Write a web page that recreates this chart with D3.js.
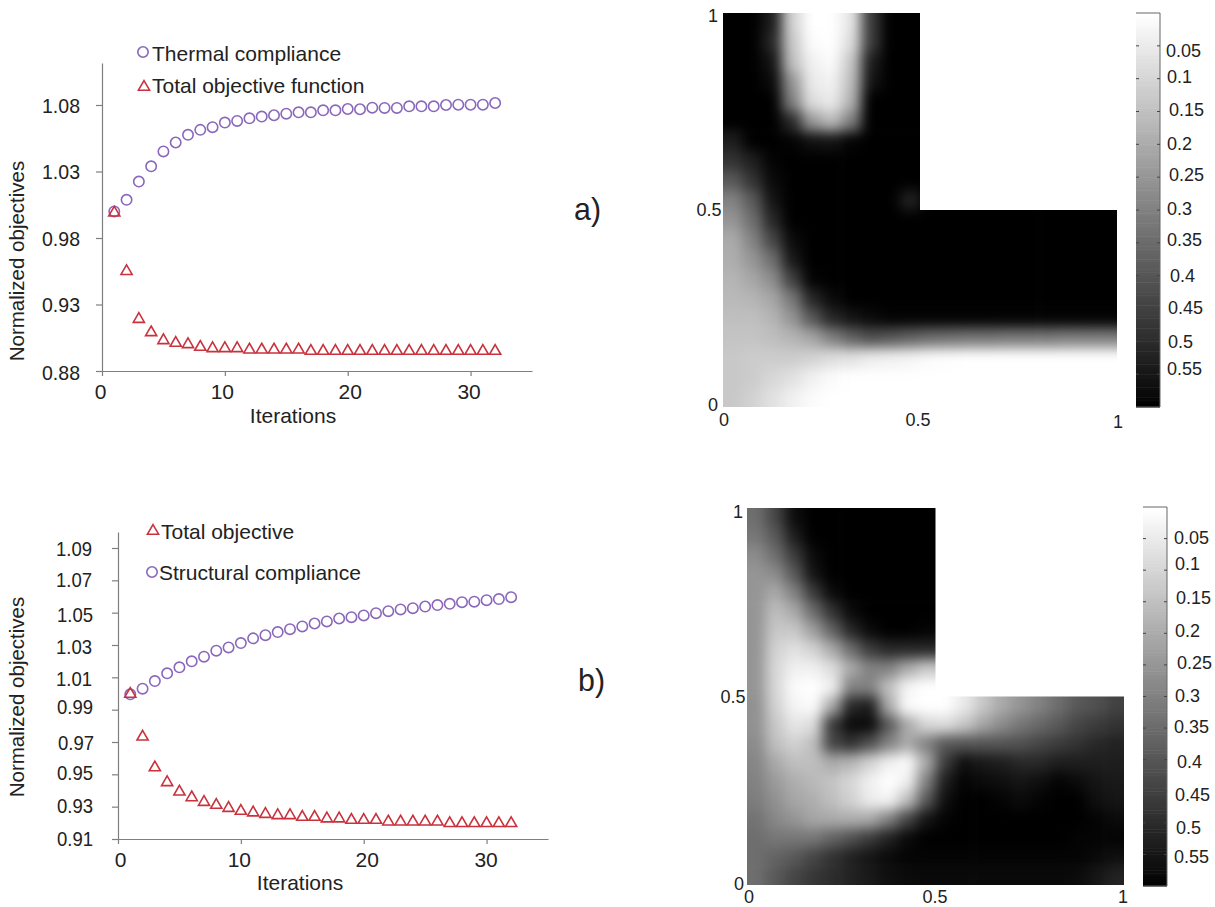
<!DOCTYPE html>
<html>
<head>
<meta charset="utf-8">
<script src="https://cdn.jsdelivr.net/npm/d3@7"></script>
<style>
    html, body { margin: 0; padding: 0; background: #fff; }
    svg { display: block; }
    text { font-family: "Liberation Sans", Arial, sans-serif; fill: #222; }
</style>
</head>
<body>
<div id="chart"></div>
<script>
// values
const iterations = d3.range(1, 33);

const thermalCompliance = [1.000, 1.0087, 1.0224, 1.0339, 1.0451, 1.0518, 1.0576, 1.0613, 1.0633, 1.0668, 1.068,
    1.070, 1.0713, 1.0723, 1.0735, 1.0745, 1.0745, 1.076, 1.076, 1.077, 1.0768, 1.078, 1.0778, 1.0778, 1.079,
    1.079, 1.079, 1.080, 1.0802, 1.0802, 1.0802, 1.0815];
const totalObjectiveA = [0.999, 0.955, 0.919, 0.909, 0.903, 0.901, 0.900, 0.898, 0.897, 0.897, 0.897, 0.896,
    0.896, 0.896, 0.896, 0.896, 0.895, 0.895, 0.895, 0.895, 0.895, 0.895, 0.895, 0.895, 0.895, 0.895, 0.895,
    0.895, 0.895, 0.895, 0.895, 0.895];
const structuralCompliance = [0.9995, 1.003, 1.0077, 1.0125, 1.0162, 1.0199, 1.0228, 1.0265, 1.0285, 1.0312,
    1.0341, 1.0361, 1.038, 1.0398, 1.0415, 1.0433, 1.0446, 1.0464, 1.0472, 1.0483, 1.0497, 1.0509, 1.052, 1.0528,
    1.0538, 1.0547, 1.0555, 1.0565, 1.0568, 1.0577, 1.0584, 1.0596];
const totalObjectiveB = [0.9997, 0.9732, 0.9542, 0.945, 0.9392, 0.9357, 0.9328, 0.931, 0.9291, 0.9273, 0.9263,
    0.9254, 0.9246, 0.9246, 0.9236, 0.9236, 0.9226, 0.9226, 0.9217, 0.9217, 0.9217, 0.9207, 0.9207, 0.9207, 0.9207,
    0.9207, 0.9197, 0.9197, 0.9197, 0.9197, 0.9197, 0.9197];

const xTicks = [0, 10, 20, 30];
const yTicksA = [0.88, 0.93, 0.98, 1.03, 1.08];
const yTicksB = [0.91, 0.93, 0.95, 0.97, 0.99, 1.01, 1.03, 1.05, 1.07, 1.09];
const barTicks = [0.05, 0.1, 0.15, 0.2, 0.25, 0.3, 0.35, 0.4, 0.45, 0.5, 0.55];
const fieldTicks = [0, 0.5, 1];

// field values, top row first, the cut out corner is left out of the first ten rows
const fieldA = [
    [.6, .6, .53, .105, 0, 0, .06, .46, .6, .6],
    [.6, .6, .505, .13, .01, 0, .08, .46, .6, .6],
    [.6, .6, .55, .15, .035, .01, .13, .53, .6, .6],
    [.6, .6, .575, .25, .05, .03, .15, .55, .6, .6],
    [.6, .6, .6, .3, .08, .05, .18, .6, .6, .6],
    [.6, .6, .6, .5, .24, .16, .3, .6, .6, .6],
    [.53, .6, .6, .59, .56, .55, .59, .6, .6, .6],
    [.48, .53, .59, .6, .6, .6, .6, .6, .6, .6],
    [.39, .48, .575, .6, .6, .6, .6, .6, .6, .6],
    [.295, .39, .55, .6, .6, .6, .6, .6, .6, .52],
    [.25, .34, .505, .6, .6, .6, .6, .6, .6, .6, .6, .6, .6, .6, .6, .6, .6, .6, .6, .6],
    [.2, .295, .435, .575, .6, .6, .6, .6, .6, .6, .6, .6, .6, .6, .6, .6, .6, .6, .6, .6],
    [.19, .25, .34, .54, .6, .6, .6, .6, .6, .6, .6, .6, .6, .6, .6, .6, .6, .6, .6, .6],
    [.175, .21, .27, .45, .59, .6, .6, .6, .6, .6, .6, .6, .6, .6, .6, .6, .6, .6, .6, .6],
    [.165, .175, .21, .32, .505, .575, .6, .6, .6, .6, .6, .6, .6, .6, .6, .6, .6, .6, .6, .6],
    [.15, .15, .175, .25, .39, .505, .55, .575, .59, .59, .59, .59, .59, .59, .59, .59, .59, .59, .59, .59],
    [.14, .14, .15, .175, .21, .295, .365, .41, .39, .365, .34, .33, .32, .32, .31, .31, .31, .3, .3, .3],
    [.13, .12, .12, .12, .105, .08, .07, .045, .035, .025, .01, .005, 0, 0, 0, 0, 0, 0, 0, 0],
    [.13, .12, .095, .07, .035, .01, 0, 0, 0, 0, 0, 0, 0, 0, 0, 0, 0, 0, 0, 0],
    [.13, .105, .07, .035, .01, 0, 0, 0, 0, 0, 0, 0, 0, 0, 0, 0, 0, 0, 0, 0]
];
const fieldB = [
    [.34, .435, .57, .6, .6, .6, .6, .6, .6, .6],
    [.32, .39, .53, .6, .6, .6, .6, .6, .6, .6],
    [.27, .34, .46, .575, .6, .6, .6, .6, .6, .6],
    [.25, .27, .39, .55, .6, .6, .6, .6, .6, .6],
    [.25, .2, .295, .46, .575, .6, .6, .6, .6, .6],
    [.25, .15, .2, .34, .48, .575, .6, .6, .6, .6],
    [.25, .13, .13, .225, .365, .505, .575, .6, .6, .59],
    [.25, .105, .07, .105, .2, .34, .46, .505, .505, .505],
    [.25, .095, .035, .035, .08, .2, .295, .295, .2, .13],
    [.25, .095, .01, 0, .035, .295, .295, .15, .025, 0],
    [.26, .105, .025, .01, .2, .505, .53, .2, .01, 0, 0, .05, .13, .2, .25, .295, .34, .39, .41, .445],
    [.26, .13, .06, .08, .46, .575, .575, .39, .2, .095, .08, .13, .21, .27, .32, .355, .39, .435, .46, .48],
    [.27, .15, .105, .15, .435, .48, .41, .295, .2, .295, .39, .4, .4, .4, .41, .435, .46, .48, .505, .52],
    [.285, .2, .15, .15, .2, .175, .105, .035, .01, .2, .46, .565, .54, .53, .505, .505, .53, .53, .53, .53],
    [.295, .235, .19, .165, .14, .095, .035, 0, .035, .295, .53, .59, .575, .565, .55, .565, .59, .575, .55, .54],
    [.305, .26, .21, .19, .15, .105, .045, .025, .15, .39, .565, .6, .6, .59, .575, .59, .6, .6, .565, .55],
    [.33, .28, .25, .21, .2, .19, .2, .295, .435, .55, .59, .6, .6, .6, .6, .6, .6, .6, .59, .575],
    [.34, .32, .32, .32, .365, .41, .46, .52, .575, .6, .6, .6, .6, .6, .6, .6, .6, .59, .59, .59],
    [.34, .365, .39, .435, .48, .52, .55, .575, .59, .59, .59, .59, .59, .59, .59, .59, .59, .59, .58, .565],
    [.34, .39, .435, .47, .495, .52, .54, .565, .575, .58, .58, .58, .58, .58, .58, .58, .58, .575, .55, .52]
];

const width = 1215, height = 907;
const purple = "#8a67bb", red = "#c9323c", axisGrey = "#7f7f7f";

const svg = d3.select("#chart").append("svg")
    .attr("width", width)
    .attr("height", height);

const defs = svg.append("defs");
defs.append("filter")
    .attr("id", "soften")
    .attr("x", "-15%").attr("y", "-15%")
    .attr("width", "130%").attr("height", "130%")
    .attr("color-interpolation-filters", "sRGB")
    .append("feGaussianBlur")
    .attr("stdDeviation", 6.5);

const grey = d3.scaleLinear().domain([0, 0.6]).range(["#ffffff", "#000000"]).clamp(true);

function drawConvergence(cfg) {
    let x = d3.scaleLinear().domain([0, 35]).range([cfg.left, cfg.right]);
    let y = d3.scaleLinear().domain([cfg.yTicks[0], cfg.yTicks[cfg.yTicks.length - 1]]).range(cfg.yRange);
    let yTop = y.invert(cfg.axisTop);
    let yAxisScale = y.copy().domain([cfg.yTicks[0], yTop]).range([cfg.yRange[0], cfg.axisTop]);

    let g = svg.append("g");

    let xAxis = g.append("g")
        .attr("transform", `translate(0,${cfg.yRange[0]})`)
        .call(d3.axisBottom(x).tickValues(xTicks).tickSize(5).tickSizeOuter(0).tickPadding(8));
    let yAxis = g.append("g")
        .attr("transform", `translate(${cfg.left},0)`)
        .call(d3.axisLeft(yAxisScale).tickValues(cfg.yTicks).tickSize(6).tickSizeOuter(0).tickFormat(d3.format(".2f")));

    xAxis.selectAll("path, line").attr("stroke", axisGrey).attr("stroke-width", 1.2);
    yAxis.selectAll("path, line").attr("stroke", axisGrey).attr("stroke-width", 1.2);
    xAxis.selectAll("text").attr("font-size", 21).attr("dx", (d, i) => cfg.xNudge[i]);
    yAxis.selectAll("text").attr("font-size", 21)
        .attr("x", (d, i) => cfg.yLabelX + cfg.yNudge[i][0])
        .attr("dy", (d, i) => 7 + cfg.yNudge[i][1])
        .attr("textLength", cfg.yLabelWidth)
        .attr("lengthAdjust", "spacingAndGlyphs");

    g.append("text")
        .attr("x", cfg.xLabel[0]).attr("y", cfg.xLabel[1])
        .attr("text-anchor", "middle")
        .attr("font-size", 21)
        .text("Iterations");
    g.append("text")
        .attr("transform", `translate(${cfg.yLabel[0]},${cfg.yLabel[1]}) rotate(-90)`)
        .attr("text-anchor", "middle")
        .attr("font-size", 20.5)
        .text("Normalized objectives");

    g.selectAll("circle.mark")
        .data(iterations)
        .join("circle")
        .attr("class", "mark")
        .attr("cx", d => x(d))
        .attr("cy", (d, i) => y(cfg.compliance[i]))
        .attr("r", 5.2)
        .attr("fill", "none")
        .attr("stroke", purple)
        .attr("stroke-width", 1.6);

    let triangle = d3.symbol().type(d3.symbolTriangle).size(54);
    g.selectAll("path.mark")
        .data(iterations)
        .join("path")
        .attr("class", "mark")
        .attr("d", triangle)
        .attr("transform", (d, i) => `translate(${x(d)},${y(cfg.total[i])})`)
        .attr("fill", "none")
        .attr("stroke", red)
        .attr("stroke-width", 1.6);

    cfg.legend.forEach(item => {
        if (item.mark === "circle") {
            g.append("circle")
                .attr("cx", item.x).attr("cy", item.y)
                .attr("r", 5.2)
                .attr("fill", "none").attr("stroke", purple).attr("stroke-width", 1.6);
        } else {
            g.append("path")
                .attr("d", triangle)
                .attr("transform", `translate(${item.x},${item.y})`)
                .attr("fill", "none").attr("stroke", red).attr("stroke-width", 1.6);
        }
        g.append("text")
            .attr("x", item.textX).attr("y", item.textY)
            .attr("font-size", 21)
            .text(item.label);
    });
}

function drawField(cfg) {
    let x = d3.scaleLinear().domain([0, 1]).range([cfg.x0, cfg.x1]);
    let y = d3.scaleLinear().domain([0, 1]).range([cfg.y0, cfg.y1]);
    let n = cfg.field.length;
    let step = 1 / n;

    // the notch cells take the nearest edge value so the blur does not bleed grey in from it
    let cells = [];
    for (let r = 0; r < n; r++) {
        for (let c = 0; c < n; c++) {
            let v = cfg.field[r][c];
            if (v === undefined) {
                v = (n / 2 - r) <= (c - n / 2 + 1) ? cfg.field[n / 2][c] : cfg.field[r][n / 2 - 1];
            }
            cells.push({ r: r, c: c, v: v });
        }
    }

    let outline = [[0, 0], [1, 0], [1, 0.5], [0.5, 0.5], [0.5, 1], [0, 1]];
    let line = d3.line().x(d => x(d[0])).y(d => y(d[1]));

    defs.append("clipPath").attr("id", cfg.id)
        .append("path").attr("d", line(outline) + "Z");

    let g = svg.append("g");
    let clipped = g.append("g").attr("clip-path", `url(#${cfg.id})`);
    let pad = 30; // edge cells run past the frame, the clip trims them
    clipped.append("g")
        .attr("filter", "url(#soften)")
        .selectAll("rect")
        .data(cells)
        .join("rect")
        .attr("x", d => x(d.c * step) - (d.c === 0 ? pad : 0))
        .attr("y", d => y(1 - d.r * step) - (d.r === 0 ? pad : 0))
        .attr("width", d => x(step) - x(0) + 0.6 + (d.c === 0 || d.c === n - 1 ? pad : 0))
        .attr("height", d => y(0) - y(step) + 0.6 + (d.r === 0 || d.r === n - 1 ? pad : 0))
        .attr("fill", d => grey(d.v));

    fieldTicks.forEach((t, i) => {
        g.append("text")
            .attr("x", cfg.xTickPos[i][0]).attr("y", cfg.xTickPos[i][1])
            .attr("text-anchor", "middle").attr("font-size", cfg.fontSize)
            .text(t);
        g.append("text")
            .attr("x", cfg.yTickPos[i][0]).attr("y", cfg.yTickPos[i][1])
            .attr("text-anchor", "middle").attr("font-size", cfg.fontSize)
            .text(t);
    });

    // colour bar
    let barY = d3.scaleLinear().domain([0, 0.6]).range([cfg.barTop, cfg.barBottom]);
    let levels = d3.range(0, 0.6, 0.005);
    let bar = g.append("g");
    bar.selectAll("rect")
        .data(levels)
        .join("rect")
        .attr("x", cfg.barX0)
        .attr("y", d => barY(d))
        .attr("width", cfg.barX1 - cfg.barX0)
        .attr("height", d => barY(d + 0.005) - barY(d) + 0.5)
        .attr("fill", d => grey(d));
    bar.append("path")
        .attr("d", `M${cfg.barX0},${cfg.barTop}H${cfg.barX1}V${cfg.barBottom}H${cfg.barX0}`)
        .attr("fill", "none")
        .attr("stroke", "#666")
        .attr("stroke-width", 1);
    bar.selectAll("line.left")
        .data(barTicks)
        .join("line")
        .attr("class", "left")
        .attr("x1", cfg.barX0).attr("x2", cfg.barX0 + 3)
        .attr("y1", d => barY(d)).attr("y2", d => barY(d))
        .attr("stroke", "#444");
    bar.selectAll("line.right")
        .data(barTicks)
        .join("line")
        .attr("class", "right")
        .attr("x1", cfg.barX1 - 3).attr("x2", cfg.barX1)
        .attr("y1", d => barY(d)).attr("y2", d => barY(d))
        .attr("stroke", "#444");
    bar.selectAll("text")
        .data(barTicks)
        .join("text")
        .attr("x", (d, i) => cfg.barLabelPos[i][0])
        .attr("y", (d, i) => cfg.barLabelPos[i][1])
        .attr("font-size", cfg.fontSize)
        .text(d => d);

    svg.append("text")
        .attr("x", cfg.tag[0]).attr("y", cfg.tag[1])
        .attr("font-size", 32)
        .attr("textLength", 27)
        .attr("lengthAdjust", "spacingAndGlyphs")
        .text(cfg.tag[2]);
}

drawConvergence({
    compliance: thermalCompliance,
    total: totalObjectiveA,
    yTicks: yTicksA,
    left: 102, right: 532,
    yRange: [371, 105],
    axisTop: 63,
    yLabelX: -22,
    yLabelWidth: 38,
    xNudge: [-2, -3, 2, -2],
    yNudge: [[0, 1], [0, 0], [0, 0], [0, 0], [0, 0]],
    xLabel: [293, 423],
    yLabel: [24, 261],
    legend: [
        { mark: "circle", x: 143, y: 52, textX: 152, textY: 61, label: "Thermal compliance" },
        { mark: "triangle", x: 144, y: 87, textX: 152, textY: 93, label: "Total objective function" }
    ]
});

drawConvergence({
    compliance: structuralCompliance,
    total: totalObjectiveB,
    yTicks: yTicksB,
    left: 118, right: 548,
    yRange: [839, 548],
    axisTop: 532,
    yLabelX: -24,
    yLabelWidth: 36,
    xNudge: [2, -2, 3, -1],
    yNudge: [[-1, -1], [-1, -1], [-1, -2], [0, 0], [-1, -3], [-2, 1], [-2, 1], [-1, 2], [-2, -1], [-2, 0]],
    xLabel: [300, 890],
    yLabel: [24, 697],
    legend: [
        { mark: "triangle", x: 153, y: 531, textX: 161, textY: 539, label: "Total objective" },
        { mark: "circle", x: 152, y: 572, textX: 159, textY: 580, label: "Structural compliance" }
    ]
});

drawField({
    id: "clip-a",
    field: fieldA,
    x0: 723, x1: 1117,
    y0: 407, y1: 13,
    fontSize: 18,
    xTickPos: [[724, 426], [918, 426], [1118, 428]],
    yTickPos: [[713, 411], [709, 216], [713, 22]],
    barX0: 1136, barX1: 1160,
    barTop: 13, barBottom: 407,
    barLabelPos: [[1166, 57], [1167, 83], [1169, 116], [1167, 150], [1169, 181], [1167, 215], [1167, 246], [1170, 282], [1168, 314], [1168, 348], [1167, 375]],
    tag: [574, 220, "a)"]
});

drawField({
    id: "clip-b",
    field: fieldB,
    x0: 747, x1: 1124,
    y0: 885, y1: 508,
    fontSize: 18,
    xTickPos: [[749, 903], [935, 903], [1123, 903]],
    yTickPos: [[739, 890], [733, 703], [738, 518]],
    barX0: 1143, barX1: 1167,
    barTop: 507, barBottom: 886,
    barLabelPos: [[1174, 544], [1175, 570], [1176, 604], [1175, 637], [1177, 669], [1175, 702], [1174, 733], [1177, 768], [1175, 801], [1176, 834], [1174, 863]],
    tag: [578, 691, "b)"]
});
</script>
</body>
</html>
